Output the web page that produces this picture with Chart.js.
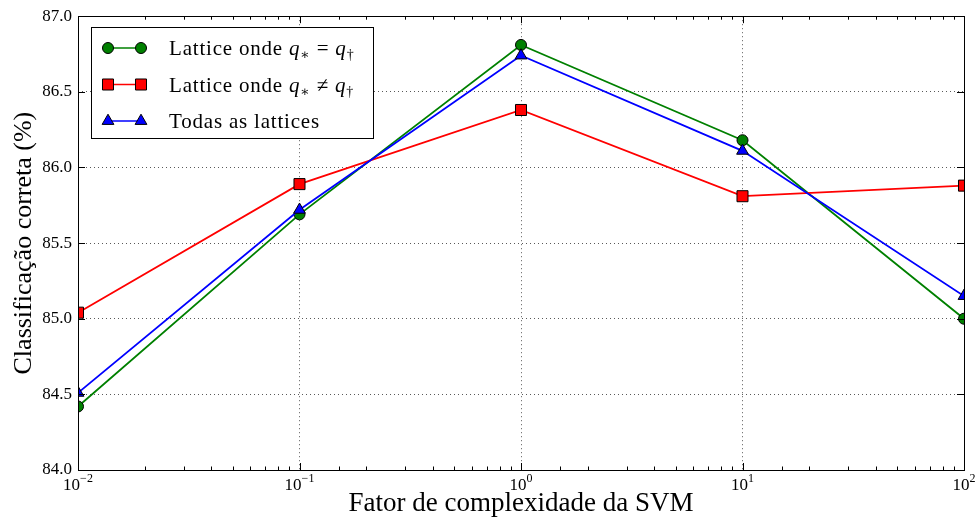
<!DOCTYPE html>
<html>
<head>
<meta charset="utf-8">
<script src="https://cdn.jsdelivr.net/npm/chart.js@4.4.1/dist/chart.umd.min.js"></script>
<style>
  html, body { margin: 0; padding: 0; background: #fff; }
</style>
</head>
<body>
<canvas id="graph" width="979" height="519"></canvas>
<script>
// fator de complexidade (C) da SVM e acurácia de cada conjunto
const complexidade = [0.01, 0.1, 1, 10, 100]
const latticeIgual = [84.42, 85.69, 86.81, 86.18, 85.00]
const latticeDiferente = [85.04, 85.89, 86.38, 85.81, 85.88]
const todasLattices = [84.51, 85.72, 86.74, 86.11, 85.15]
const expoentesX = [-2, -1, 0, 1, 2]
const yMin = 84.0, yMax = 87.0, yPasso = 0.5

const serif = "'Liberation Serif', 'DejaVu Serif', serif"

const series = [
  { nome: 'igual', valores: latticeIgual, cor: '#008000', estilo: 'circle', raio: 5.5 },
  { nome: 'diferente', valores: latticeDiferente, cor: '#ff0000', estilo: 'rect', raio: 7.8 },
  { nome: 'todas', valores: todasLattices, cor: '#0000ff', estilo: 'triangle', raio: 6.8 }
]

function pontos(valores) {
  return complexidade.map((c, i) => ({ x: c, y: valores[i] }))
}

// texto com partes em itálico / subscrito
function desenhaTrechos(ctx, trechos, x, y) {
  trechos.forEach(t => {
    ctx.font = t.f
    ctx.fillText(t.t, x, y + (t.dy || 0))
    x += ctx.measureText(t.t).width
  })
}

const fonteLegenda = `21px ${serif}`
const fonteItalico = `italic 21px ${serif}`
const fonteSub = `14px ${serif}`
const textosLegenda = [
  [{ t: 'Lattice onde ', f: fonteLegenda }, { t: 'q', f: fonteItalico }, { t: '∗', f: fonteSub, dy: 4 },
   { t: ' = ', f: fonteLegenda }, { t: 'q', f: fonteItalico }, { t: '†', f: fonteSub, dy: 4 }],
  [{ t: 'Lattice onde ', f: fonteLegenda }, { t: 'q', f: fonteItalico }, { t: '∗', f: fonteSub, dy: 4 },
   { t: ' ≠ ', f: fonteLegenda }, { t: 'q', f: fonteItalico }, { t: '†', f: fonteSub, dy: 4 }],
  [{ t: 'Todas as lattices', f: fonteLegenda }]
]

// moldura, marcas internas dos eixos, rótulos 10^n e legenda
const moldura = {
  id: 'moldura',
  afterDatasetsDraw(chart) {
    const { ctx, chartArea: a, scales } = chart
    ctx.save()
    ctx.strokeStyle = '#000'
    ctx.lineWidth = 1
    ctx.beginPath()
    scales.x.ticks.forEach(t => {
      const px = Math.round(scales.x.getPixelForValue(t.value)) + 0.5
      const maior = Number.isInteger(Math.round(Math.log10(t.value) * 1e6) / 1e6)
      const len = maior ? 7 : 3.5
      ctx.moveTo(px, a.bottom); ctx.lineTo(px, a.bottom - len)
      ctx.moveTo(px, a.top); ctx.lineTo(px, a.top + len)
    })
    scales.y.ticks.forEach(t => {
      const py = Math.round(scales.y.getPixelForValue(t.value)) + 0.5
      ctx.moveTo(a.left, py); ctx.lineTo(a.left + 7, py)
      ctx.moveTo(a.right, py); ctx.lineTo(a.right - 7, py)
    })
    ctx.stroke()
    ctx.strokeRect(Math.round(a.left) + 0.5, Math.round(a.top) + 0.5,
                   Math.round(a.right - a.left), Math.round(a.bottom - a.top))
    ctx.restore()
  },
  afterDraw(chart) {
    const { ctx, chartArea: a, scales } = chart
    ctx.save()
    ctx.fillStyle = '#000'
    ctx.textBaseline = 'alphabetic'

    // rótulos do eixo x em potências de 10
    expoentesX.forEach(e => {
      const px = scales.x.getPixelForValue(Math.pow(10, e))
      const base = '10'
      const exp = e < 0 ? '−' + Math.abs(e) : String(e)
      ctx.font = `17px ${serif}`
      const wb = ctx.measureText(base).width
      ctx.font = `12px ${serif}`
      const we = ctx.measureText(exp).width
      const x0 = px - (wb + we) / 2
      ctx.font = `17px ${serif}`
      ctx.fillText(base, x0, a.bottom + 20)
      ctx.font = `12px ${serif}`
      ctx.fillText(exp, x0 + wb, a.bottom + 12)
    })

    // legenda
    const bx = 91, by = 27, bw = 282, bh = 111
    ctx.fillStyle = '#fff'
    ctx.fillRect(bx, by, bw, bh)
    ctx.strokeStyle = '#000'
    ctx.lineWidth = 1
    ctx.strokeRect(bx + 0.5, by + 0.5, bw, bh)
    series.forEach((s, i) => {
      const ly = 48 + i * 36.5
      ctx.strokeStyle = s.cor
      ctx.lineWidth = 1.6
      ctx.beginPath()
      ctx.moveTo(108, ly); ctx.lineTo(141, ly)
      ctx.stroke()
      ctx.fillStyle = s.cor
      ctx.strokeStyle = '#000'
      ctx.lineWidth = 1
      ;[108, 141].forEach(mx => {
        Chart.helpers.drawPoint(ctx, { pointStyle: s.estilo, radius: s.raio, rotation: 0, borderWidth: 1 }, mx, ly)
      })
      ctx.fillStyle = '#000'
      ctx.letterSpacing = '0.8px'
      desenhaTrechos(ctx, textosLegenda[i], 169, ly + 7)
      ctx.letterSpacing = '0px'
    })
    ctx.restore()
  }
}

const ordemDesenho = { igual: 2, diferente: 1, todas: 0 }

new Chart(document.getElementById('graph'), {
  type: 'line',
  data: {
    datasets: series.map(s => ({
      label: s.nome,
      data: pontos(s.valores),
      borderColor: s.cor,
      backgroundColor: s.cor,
      borderWidth: 1.8,
      pointStyle: s.estilo,
      pointRadius: s.raio,
      pointHoverRadius: s.raio,
      pointBackgroundColor: s.cor,
      pointBorderColor: '#000',
      pointBorderWidth: 1,
      tension: 0,
      clip: 0,
      order: ordemDesenho[s.nome]
    }))
  },
  options: {
    responsive: false,
    animation: false,
    events: [],
    layout: { padding: { top: 15, right: 15, left: 0, bottom: 0 } },
    plugins: { legend: { display: false }, tooltip: { enabled: false } },
    scales: {
      x: {
        type: 'logarithmic',
        min: 0.01,
        max: 100,
        afterFit(scale) { scale.height = 49 },
        ticks: { display: false },
        border: { display: false, dash: [1, 3] },
        grid: {
          drawTicks: false,
          lineWidth: 1,
          color(ctx) {
            const v = ctx.tick && ctx.tick.value
            if (!v) return 'rgba(0,0,0,0)'
            const l = Math.log10(v)
            const decada = Math.abs(l - Math.round(l)) < 1e-6
            if (!decada || v <= 0.01 || v >= 100) return 'rgba(0,0,0,0)'
            return 'rgba(0,0,0,0.65)'
          }
        },
        title: {
          display: true,
          text: 'Fator de complexidade da SVM',
          color: '#000',
          font: { family: serif, size: 27 },
          padding: { top: 0, bottom: -1 }
        }
      },
      y: {
        min: yMin,
        max: yMax,
        afterFit(scale) { scale.width = 78 },
        ticks: {
          stepSize: yPasso,
          color: '#000',
          padding: 6,
          font: { family: serif, size: 17 },
          callback: v => Number(v).toFixed(1)
        },
        border: { display: false, dash: [1, 3] },
        grid: {
          drawTicks: false,
          lineWidth: 1,
          color(ctx) {
            const v = ctx.tick && ctx.tick.value
            if (v === undefined || v <= yMin || v >= yMax) return 'rgba(0,0,0,0)'
            return 'rgba(0,0,0,0.65)'
          }
        },
        title: {
          display: true,
          text: 'Classificação correta (%)',
          color: '#000',
          font: { family: serif, size: 26 },
          padding: { top: 9, bottom: 0 }
        }
      }
    }
  },
  plugins: [moldura]
})
</script>
</body>
</html>
